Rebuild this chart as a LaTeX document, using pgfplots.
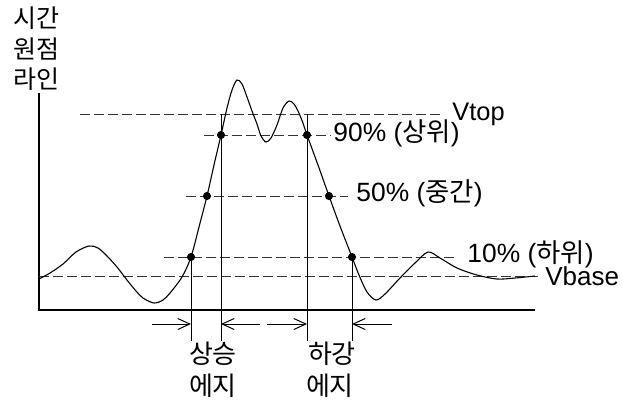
\documentclass[border=0pt]{standalone}
\usepackage{pgfplots}
\pgfplotsset{compat=1.18}
\usepackage{fontspec}
\setmainfont{Liberation Sans}
\newfontfamily\kr{Noto Sans CJK KR}
\usetikzlibrary{arrows.meta}
\begin{document}
\begin{tikzpicture}
\begin{axis}[scale only axis, width=311.5pt, height=201pt,
  xmin=0, xmax=623, ymin=0, ymax=402, y dir=reverse,
  hide axis, clip=false]
% bounding frame (invisible)
\addplot[draw=none] coordinates {(0,0) (623,402)};
% axes
\addplot[black, line width=0.55pt] coordinates {(39,93) (39,310) (535,310)};
% reference levels
\addplot[black!80, line width=0.5pt, dash pattern=on 5pt off 2pt] coordinates {(80,114) (443,114)};
\addplot[black!80, line width=0.5pt, dash pattern=on 5pt off 2pt] coordinates {(204,135) (331,135)};
\addplot[black!80, line width=0.5pt, dash pattern=on 5pt off 2pt] coordinates {(186,196) (348,196)};
\addplot[black!80, line width=0.5pt, dash pattern=on 5pt off 2pt] coordinates {(164,257) (455,257)};
\addplot[black!80, line width=0.5pt, dash pattern=on 5pt off 2pt] coordinates {(39,276) (538,276)};
% vertical edge markers
\addplot[black, line width=0.5pt] coordinates {(191,257) (191,341)};
\addplot[black, line width=0.5pt] coordinates {(221,114) (221,341)};
\addplot[black, line width=0.5pt] coordinates {(307,114) (307,341)};
\addplot[black, line width=0.5pt] coordinates {(352,257) (352,341)};
% arrows
\addplot[black, line width=0.5pt, -{Straight Barb[length=6pt,width=5.5pt]}] coordinates {(152,324) (191,324)};
\addplot[black, line width=0.5pt, -{Straight Barb[length=6pt,width=5.5pt]}] coordinates {(260,324) (221,324)};
\addplot[black, line width=0.5pt, -{Straight Barb[length=6pt,width=5.5pt]}] coordinates {(267,324) (307,324)};
\addplot[black, line width=0.5pt, -{Straight Barb[length=6pt,width=5.5pt]}] coordinates {(392,324) (352,324)};
% signal
\addplot[black, line width=0.55pt, smooth] coordinates {
(39,279) (50,273) (63,264) (76,252) (89,246) (98,248) (107,256) (117,267) (127,280)
(136,291) (143,298) (154,303) (163,300) (170,293) (182,277) (191,257)
(199,227) (207,196) (214,165) (221,135) (227,108) (232,90) (237,80)
(242,84) (247,97) (252,111) (257,124) (261,136) (266,142) (271,138) (277,125)
(283,108) (289,101) (294,104) (298,111) (303,123) (307,135)
(318,165) (329,196) (340,226) (352,257) (359,275) (367,292) (376,300)
(385,294) (400,278) (415,263) (428,252) (440,258) (457,268) (477,275) (497,279) (515,278) (535,276)};
% threshold crossings
\addplot[only marks, mark=*, mark size=1.8pt, black] coordinates {
(191,257) (207,196) (221,135) (307,135) (329,196) (352,257)};
% labels
\node[anchor=base west, inner sep=0pt, font=\kr\fontsize{12.5}{14}\selectfont] at (axis cs:13,27) {시간};
\node[anchor=base west, inner sep=0pt, font=\kr\fontsize{12.5}{14}\selectfont] at (axis cs:13,58) {원점};
\node[anchor=base west, inner sep=0pt, font=\kr\fontsize{12.5}{14}\selectfont] at (axis cs:13,88) {라인};
\node[anchor=base west, inner sep=0pt, font=\fontsize{12.7}{14}\selectfont] at (axis cs:452,120) {Vtop};
\node[anchor=base west, inner sep=0pt, font=\fontsize{13.2}{15}\selectfont] at (axis cs:333,141) {90\% ({\kr 상위})};
\node[anchor=base west, inner sep=0pt, font=\fontsize{13.2}{15}\selectfont] at (axis cs:356,201) {50\% ({\kr 중간})};
\node[anchor=base west, inner sep=0pt, font=\fontsize{13.2}{15}\selectfont] at (axis cs:467,262) {10\% ({\kr 하위})};
\node[anchor=base west, inner sep=0pt, font=\fontsize{13}{15}\selectfont] at (axis cs:545,285) {Vbase};
\node[font=\kr\fontsize{13}{15}\selectfont] at (axis cs:213,354) {상승};
\node[font=\kr\fontsize{13}{15}\selectfont] at (axis cs:213,386) {에지};
\node[font=\kr\fontsize{13}{15}\selectfont] at (axis cs:332,354) {하강};
\node[font=\kr\fontsize{13}{15}\selectfont] at (axis cs:330,386) {에지};
\end{axis}
\end{tikzpicture}
\end{document}
